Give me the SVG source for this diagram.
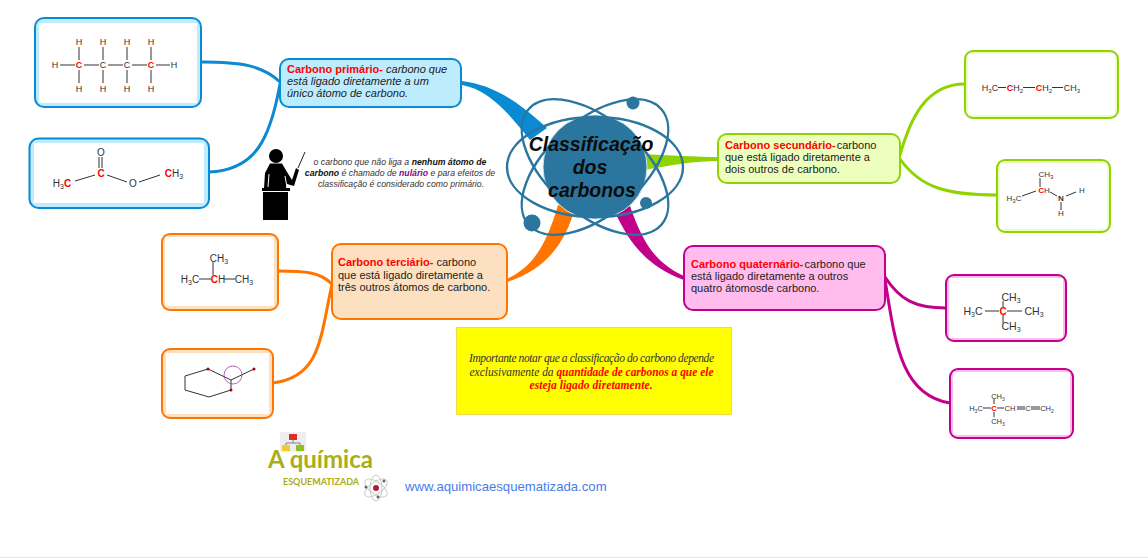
<svg xmlns="http://www.w3.org/2000/svg" width="1148" height="558" viewBox="0 0 1148 558">
<style>
text{font-family:"Liberation Sans",Arial,sans-serif}
.t{font-size:11px;fill:#222}
.i{font-style:italic}
.h{font-weight:bold;fill:#f00}
.n{font-size:8.7px;font-style:italic;fill:#333;text-anchor:middle}
.m{font-size:9px;fill:#333;text-anchor:middle}
.r{fill:#f00}
.b{stroke:#333;stroke-width:1;fill:none}
.con{fill:none;stroke-width:3}
.blue{stroke:#0a8ad2}.green{stroke:#8fd400}.orange{stroke:#ff7500}.mag{stroke:#c3008c}
.im{font-family:"Liberation Serif",serif;font-size:11.5px;font-style:italic;fill:#333;text-anchor:middle}
.imr{font-weight:bold;fill:#f00}
.orb{fill:none;stroke:#2a769f;stroke-width:2.4}
.tit{font-size:19.5px;font-weight:bold;font-style:italic;text-anchor:middle;fill:#0b0b0b}
</style>
<rect width="1148" height="558" fill="#fff"/>
<g id="connectors">
<path d="M462 81C490 85 512 96 547 128L530 140C510 115 490 90 462 85Z" fill="#0a8ad2"/>
<path d="M720 157C695 157 670 155 640 154L640 171C670 165 695 161 720 161Z" fill="#8fd400"/>
<path d="M507 279C530 268 545 250 558 205L575 209C565 240 550 268 507 282Z" fill="#ff7500"/>
<path d="M686 277C660 265 645 250 630 206L615 212C628 240 645 266 684 280Z" fill="#c3008c"/>
<path class="con blue" d="M202 62C240 62 262 65 280 82"/>
<path class="con blue" d="M209 172C255 170 270 140 280 84"/>
<path class="con green" d="M900 155C910 120 925 84 965 84"/>
<path class="con green" d="M900 159C920 187 945 195 997 195"/>
<path class="con orange" d="M278 271C305 271 320 272 332 284"/>
<path class="con orange" d="M273 383C320 377 320 340 332 284"/>
<path class="con mag" d="M885 277C900 300 915 308 946 308"/>
<path class="con mag" d="M885 280C895 340 900 395 950 403"/>
</g>
<g id="center">
<circle cx="595" cy="167" r="52" fill="#2a769f" stroke="#cfe2ec" stroke-width="1"/>
<ellipse class="orb" cx="595" cy="167" rx="88" ry="50"/>
<ellipse class="orb" cx="595" cy="167" rx="88" ry="47" transform="rotate(41 595 167)"/>
<ellipse class="orb" cx="595" cy="167" rx="88" ry="47" transform="rotate(-41 595 167)"/>
<circle cx="633" cy="103" r="6.5" fill="#2a769f"/>
<circle cx="532" cy="223" r="8.5" fill="#2a769f"/>
<circle cx="646" cy="203" r="6" fill="#2a769f"/>
<text class="tit" x="591" y="151">Classificação</text>
<text class="tit" x="590" y="174">dos</text>
<text class="tit" x="592" y="197">carbonos</text>
</g>
<g id="primario">
<rect x="280" y="59" width="181" height="48" rx="9" fill="#bdecff" stroke="#0a8ad2" stroke-width="2"/>
<text class="t" x="287" y="73"><tspan class="h">Carbono primário-</tspan><tspan class="i"> carbono que</tspan></text>
<text class="t i" x="287" y="85">está ligado diretamente a um</text>
<text class="t i" x="287" y="97">único átomo de carbono.</text>
</g>
<g id="mol-butano">
<rect x="35" y="18" width="166" height="89" rx="9" fill="#bdecff" stroke="#0a8ad2" stroke-width="2"/>
<rect x="39" y="23" width="158" height="80" fill="#fff"/>
<path class="b" d="M60 65H75M84 65H99M108 65H123M132 65H147M156 65H170M79 47V60M79 70V83M103 47V60M103 70V83M127 47V60M127 70V83M151 47V60M151 70V83"/>
<text class="m" x="79" y="45">H</text><text class="m" x="103" y="45">H</text><text class="m" x="127" y="45">H</text><text class="m" x="151" y="45">H</text>
<text class="m" x="79" y="92">H</text><text class="m" x="103" y="92">H</text><text class="m" x="127" y="92">H</text><text class="m" x="151" y="92">H</text>
<text class="m" x="55" y="68">H</text><text class="m" x="174" y="68">H</text>
<text class="m r" x="79" y="68" font-weight="bold">C</text><text class="m" x="103" y="68">C</text><text class="m" x="127" y="68">C</text><text class="m r" x="151" y="68" font-weight="bold">C</text>
</g>
<g id="mol-ester">
<rect x="29.500" y="138.500" width="179.500" height="69.500" rx="9" fill="#bdecff" stroke="#0a8ad2" stroke-width="2"/>
<rect x="34" y="143" width="170" height="60" fill="#fff"/>
<path class="b" d="M99 157V168M102 157V168M75 181L95 175M107 175L127 182M139 182L160 175"/>
<text class="m" x="101" y="156" font-size="10" style="font-size:10px">O</text>
<text class="m" x="133" y="187" style="font-size:10px">O</text>
<text class="m" x="62" y="187" style="font-size:10px">H<tspan style="font-size:7px" dy="2">3</tspan><tspan class="r" font-weight="bold" dy="-2">C</tspan></text>
<text class="m r" x="101" y="177" font-weight="bold" style="font-size:10px">C</text>
<text class="m" x="174" y="177" style="font-size:10px"><tspan class="r" font-weight="bold">C</tspan>H<tspan style="font-size:7px" dy="2">3</tspan></text>
</g>
<g id="nota">
<circle cx="276" cy="156" r="7" fill="#000"/>
<path d="M270 163.500H282L287 172L292 180L296 168L299 170L294 186L287 184L286 188H264L265 173Z" fill="#000"/>
<path d="M269 174L268 187M285 176L287 187" stroke="#fff" stroke-width="1" fill="none"/>
<path d="M298 168L305 152" stroke="#222" stroke-width="1"/>
<rect x="262" y="188" width="28" height="3" fill="#000"/>
<rect x="263" y="192" width="25" height="28" fill="#000"/>
<text class="n" x="400" y="165">o carbono que não liga a <tspan font-weight="bold" fill="#111">nenhum átomo de</tspan></text>
<text class="n" x="400" y="176"><tspan font-weight="bold" fill="#111">carbono</tspan> é chamado de <tspan font-weight="bold" fill="#7a0a90">nulário</tspan> e para efeitos de</text>
<text class="n" x="401" y="187">classificação é considerado como primário.</text>
</g>
<g id="secundario">
<rect x="718" y="134" width="182" height="49" rx="9" fill="#edffbd" stroke="#8fd400" stroke-width="2"/>
<text class="t" x="725" y="149"><tspan class="h">Carbono secundário-</tspan><tspan dx="-2"> carbono</tspan></text>
<text class="t" x="725" y="161">que está ligado diretamente a</text>
<text class="t" x="725" y="173">dois outros de carbono.</text>
</g>
<g id="mol-butano2">
<rect x="965" y="51" width="153" height="67" rx="8" fill="#edffbd" stroke="#8fd400" stroke-width="2"/>
<rect x="968" y="54" width="147" height="61" fill="#fff"/>
<path class="b" d="M998 87.500H1006M1023 87.500H1035M1052 87.500H1063"/>
<text class="m" x="990" y="91">H<tspan style="font-size:6px" dy="2">3</tspan><tspan dy="-2">C</tspan></text>
<text class="m" x="1015" y="91"><tspan class="r" font-weight="bold">C</tspan>H<tspan style="font-size:6px" dy="2">2</tspan></text>
<text class="m" x="1044" y="91"><tspan class="r" font-weight="bold">C</tspan>H<tspan style="font-size:6px" dy="2">2</tspan></text>
<text class="m" x="1072" y="91">CH<tspan style="font-size:6px" dy="2">3</tspan></text>
</g>
<g id="mol-amina">
<rect x="997" y="160" width="113" height="72" rx="8" fill="#edffbd" stroke="#8fd400" stroke-width="2"/>
<rect x="1000" y="163" width="107" height="66" fill="#fff"/>
<path class="b" d="M1040 178V187M1022 196L1036 191M1050 192L1057 196M1066 196L1076 192M1061 202V210"/>
<text class="m" x="1046" y="177" style="font-size:8px">CH<tspan style="font-size:6px" dy="2">3</tspan></text>
<text class="m" x="1044" y="193" style="font-size:8px"><tspan class="r" font-weight="bold">C</tspan>H</text>
<text class="m" x="1014" y="201" style="font-size:8px">H<tspan style="font-size:6px" dy="2">3</tspan><tspan dy="-2">C</tspan></text>
<text class="m" x="1061" y="201" font-weight="bold" style="font-size:8px">N</text>
<text class="m" x="1082" y="193" style="font-size:8px">H</text>
<text class="m" x="1061" y="216" style="font-size:8px">H</text>
</g>
<g id="terciario">
<rect x="332" y="244" width="175" height="75" rx="9" fill="#fde0c0" stroke="#ff7500" stroke-width="2"/>
<text class="t" x="338" y="266"><tspan class="h">Carbono terciário-</tspan> carbono</text>
<text class="t" x="338" y="279">que está ligado diretamente a</text>
<text class="t" x="338" y="291">três outros átomos de carbono.</text>
</g>
<g id="mol-isobutano">
<rect x="162" y="234" width="116" height="76" rx="8" fill="#fde0c0" stroke="#ff7500" stroke-width="2"/>
<rect x="165" y="237" width="109" height="69" fill="#fff"/>
<path class="b" d="M199 279H211M213 262V275M224 279H235"/>
<text class="m" x="219" y="262" style="font-size:10px">CH<tspan style="font-size:7px" dy="2">3</tspan></text>
<text class="m" x="190" y="283" style="font-size:10px">H<tspan style="font-size:7px" dy="2">3</tspan><tspan dy="-2">C</tspan></text>
<text class="m" x="218" y="283" style="font-size:10px"><tspan class="r" font-weight="bold">C</tspan>H</text>
<text class="m" x="244" y="283" style="font-size:10px">CH<tspan style="font-size:7px" dy="2">3</tspan></text>
</g>
<g id="mol-ciclo">
<rect x="162" y="349" width="111" height="69" rx="8" fill="#fde0c0" stroke="#ff7500" stroke-width="2"/>
<rect x="166" y="353" width="103" height="61" fill="#fff"/>
<path d="M185 376L208 369L231 380V390L209 397L185 390ZM231 380L254 369" fill="none" stroke="#333" stroke-width="1"/>
<circle cx="233" cy="375" r="9" fill="none" stroke="#9a3bb0" stroke-width=".8"/>
<circle cx="208" cy="369" r="1.500" fill="#a00"/><circle cx="231" cy="390" r="1.500" fill="#a00"/><circle cx="254" cy="369" r="1.500" fill="#a00"/>
</g>
<g id="quaternario">
<rect x="684" y="246" width="201" height="64" rx="9" fill="#ffbcec" stroke="#c3008c" stroke-width="2"/>
<text class="t" x="691" y="268"><tspan class="h">Carbono quaternário-</tspan><tspan dx="-2"> carbono que</tspan></text>
<text class="t" x="691" y="280">está ligado diretamente a outros</text>
<text class="t" x="691" y="292">quatro átomosde carbono.</text>
</g>
<g id="mol-neopentano">
<rect x="946" y="275" width="120" height="66" rx="8" fill="#ffbcec" stroke="#c3008c" stroke-width="2"/>
<rect x="949" y="278" width="114" height="60" fill="#fff"/>
<path class="b" d="M985 311H999M1007 311H1022M1003 301V307M1003 315V323"/>
<text class="m" x="1011" y="301" style="font-size:10.5px">CH<tspan style="font-size:7px" dy="2">3</tspan></text>
<text class="m" x="973" y="315" style="font-size:10.5px">H<tspan style="font-size:7px" dy="2">3</tspan><tspan dy="-2">C</tspan></text>
<text class="m r" x="1003" y="315" font-weight="bold" style="font-size:10px">C</text>
<text class="m" x="1034" y="315" style="font-size:10.5px">CH<tspan style="font-size:7px" dy="2">3</tspan></text>
<text class="m" x="1011" y="330" style="font-size:10.5px">CH<tspan style="font-size:7px" dy="2">3</tspan></text>
</g>
<g id="mol-dieno">
<rect x="950" y="369" width="123" height="69" rx="8" fill="#ffbcec" stroke="#c3008c" stroke-width="2"/>
<rect x="953" y="372" width="117" height="63" fill="#fff"/>
<path class="b" d="M983 408H991M997 408H1004M994 399V404M994 412V417M1017 407H1025M1017 409H1025M1031 407H1040M1031 409H1040"/>
<text class="m" x="998" y="399" style="font-size:7.500px">CH<tspan style="font-size:5px" dy="2">3</tspan></text>
<text class="m" x="976" y="411" style="font-size:7.500px">H<tspan style="font-size:5px" dy="2">3</tspan><tspan dy="-2">C</tspan></text>
<text class="m r" x="994" y="411" font-weight="bold" style="font-size:7.500px">C</text>
<text class="m" x="1010" y="411" style="font-size:7.500px">CH</text>
<text class="m" x="1028" y="411" style="font-size:7.500px">C</text>
<text class="m" x="1047" y="411" style="font-size:7.500px">CH<tspan style="font-size:5px" dy="2">2</tspan></text>
<text class="m" x="998" y="424" style="font-size:7.500px">CH<tspan style="font-size:5px" dy="2">3</tspan></text>
</g>
<g id="importante">
<rect x="456.500" y="327.500" width="275" height="87" fill="#ff0" stroke="#f2d84a"/>
<text class="im" x="591.500" y="362" textLength="245">Importante notar que a classificação do carbono depende</text>
<text class="im" x="591.500" y="376" textLength="244">exclusivamente da <tspan class="imr">quantidade de carbonos a que ele</tspan></text>
<text class="im imr" x="591" y="389" textLength="123" style="font-weight:bold;fill:#f00">esteja ligado diretamente.</text>
</g>
<g id="logo">
<rect x="280" y="432" width="26" height="20" rx="2" fill="#eee"/>
<rect x="289" y="434" width="8" height="6" fill="#d9302a"/>
<path d="M293 440V443M286 446V443H300V446" fill="none" stroke="#666" stroke-width=".8"/>
<rect x="282" y="445" width="8" height="6" fill="#f5c92e"/>
<rect x="296" y="445" width="8" height="6" fill="#8cc21e"/>
<text x="268" y="468" font-size="24" font-weight="bold" style="font-family:Lato,sans-serif" fill="#a9ad17">A química</text>
<text x="283" y="485" font-size="9" font-weight="bold" style="font-family:Lato,sans-serif" fill="#a9ad17">ESQUEMATIZADA</text>
<g fill="none" stroke="#ccc" stroke-width="1">
<ellipse cx="376" cy="488" rx="13" ry="6" transform="rotate(35 376 488)"/>
<ellipse cx="376" cy="488" rx="13" ry="6" transform="rotate(-35 376 488)"/>
<ellipse cx="376" cy="488" rx="13" ry="6" transform="rotate(90 376 488)"/>
</g>
<circle cx="376" cy="488" r="3" fill="#b01d3c"/>
<circle cx="384" cy="481" r="1.500" fill="#666"/><circle cx="366" cy="487" r="1.500" fill="#666"/><circle cx="378" cy="497" r="1.500" fill="#666"/>
<text x="405" y="491" font-size="13.150" fill="#4a7be8">www.aquimicaesquematizada.com</text>
</g>
<rect y="557" width="1148" height="1" fill="#e4e4e4"/>
</svg>
